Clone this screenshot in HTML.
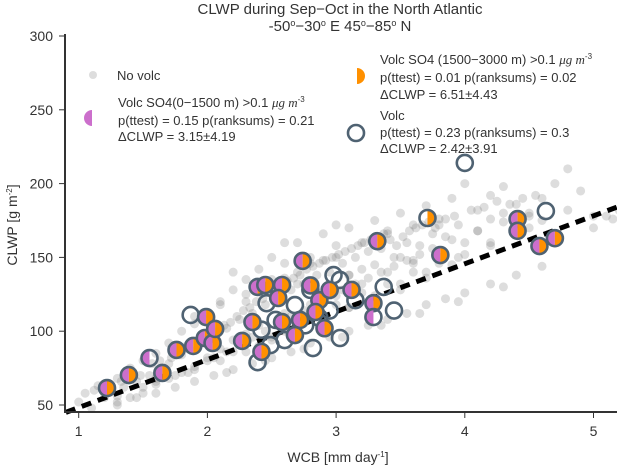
<!DOCTYPE html>
<html><head><meta charset="utf-8"><style>
body{margin:0;background:#fff}
svg text{font-family:"Liberation Sans",sans-serif;fill:#333}
</style></head><body>
<svg id="chart" width="617" height="467" viewBox="0 0 617 467" xmlns="http://www.w3.org/2000/svg">
<text x="340" y="14" font-size="15" text-anchor="middle">CLWP during Sep−Oct in the North Atlantic</text>
<text x="340" y="31" font-size="15" text-anchor="middle">-50<tspan font-size="9" dy="-5">o</tspan><tspan dy="5">−30</tspan><tspan font-size="9" dy="-5">o</tspan><tspan dy="5"> E   45</tspan><tspan font-size="9" dy="-5">o</tspan><tspan dy="5">−85</tspan><tspan font-size="9" dy="-5">o</tspan><tspan dy="5"> N</tspan></text>
<g id="gray"></g>
<line id="fit" stroke="#000" stroke-width="5" stroke-dasharray="10,7"/>
<g id="marks"></g>
<g id="axes"></g>
<text x="338" y="462" font-size="14" text-anchor="middle">WCB [mm day<tspan font-size="8" dy="-5">-1</tspan><tspan dy="5">]</tspan></text>
<text transform="translate(17,225) rotate(-90)" font-size="14" text-anchor="middle">CLWP [g m<tspan font-size="8" dy="-5">-2</tspan><tspan dy="5">]</tspan></text>
<g font-size="13">
 <circle cx="93" cy="75" r="4" fill="#ddd"/>
 <text x="117" y="80" font-size="13">No volc</text>
 <path d="M92,110 A8,8 0 0 0 92,126 Z" fill="#cc6fcc"/>
 <text x="118" y="107" font-size="13">Volc SO4(0−1500 m) &gt;0.1 <tspan font-style="italic" font-family="Liberation Serif">μg  m</tspan><tspan font-size="8" dy="-5">-3</tspan></text>
 <text x="118" y="125" font-size="13">p(ttest) = 0.15 p(ranksums) = 0.21</text>
 <text x="118" y="141" font-size="13">ΔCLWP = 3.15±4.19</text>
 <path d="M357,68 A8,8 0 0 1 357,84 Z" fill="#ff9000"/>
 <text x="380" y="64" font-size="13">Volc SO4 (1500−3000 m) &gt;0.1 <tspan font-style="italic" font-family="Liberation Serif">μg  m</tspan><tspan font-size="8" dy="-5">-3</tspan></text>
 <text x="380" y="82" font-size="13">p(ttest) = 0.01 p(ranksums) = 0.02</text>
 <text x="380" y="99" font-size="13">ΔCLWP = 6.51±4.43</text>
 <circle cx="356" cy="133" r="8" fill="none" stroke="#4f6272" stroke-width="2.6"/>
 <text x="380" y="120" font-size="13">Volc</text>
 <text x="380" y="137" font-size="13">p(ttest) = 0.23 p(ranksums) = 0.3</text>
 <text x="380" y="153" font-size="13">ΔCLWP = 2.42±3.91</text>
</g>
</svg>
<script>
const xTicks=[1,2,3,4,5];
const yTicks=[50,100,150,200,250,300];
const fitLine=[[0.9,45],[5.18,184]];
const grayX=[1.0,1.05,1.1,1.15,1.2,1.25,1.3,1.3,1.35,1.4,1.45,1.5,1.5,1.55,1.6,1.6,1.65,1.7,1.7,1.75,1.8,1.8,1.85,1.9,1.9,1.95,2.0,2.0,2.05,2.1,2.1,2.15,2.2,2.2,2.25,2.3,2.3,2.35,2.4,2.4,2.45,2.5,2.5,2.55,2.6,2.6,2.65,2.7,2.7,2.75,2.8,2.8,2.85,2.9,2.9,2.95,3.0,3.0,3.05,3.1,3.1,3.15,3.2,3.2,3.25,3.3,3.3,3.35,3.4,3.4,3.45,3.5,3.5,3.55,3.6,3.6,3.65,3.7,3.7,3.75,3.8,3.8,3.85,3.9,3.9,3.95,4.0,4.0,4.1,4.1,4.2,4.2,4.3,4.3,4.4,4.5,4.6,4.7,4.8,4.8,5.0,5.1,5.2,1.4,1.6,1.8,2.0,2.2,2.4,2.6,2.8,3.0,3.2,3.4,3.6,3.8,4.0,4.2,4.4,4.6,1.9,2.1,2.3,2.5,2.7,2.9,3.1,3.3,3.5,2.2,2.6,3.0,3.4,3.8,4.6,4.9,
1.12,1.22,1.33,1.42,1.48,1.57,1.63,1.72,1.78,1.84,1.92,1.97,2.03,2.08,2.13,2.18,2.23,2.28,2.33,2.38,2.43,2.48,2.53,2.57,2.62,2.67,2.72,2.77,2.82,2.87,2.92,2.97,3.02,3.07,3.12,3.17,3.22,3.27,3.32,3.37,3.42,3.47,3.52,3.57,3.62,3.67,3.72,3.77,3.85,3.92,4.05,4.15,4.25,4.35,4.45,4.55,
1.3,1.5,1.7,1.9,2.05,2.15,2.25,2.35,2.45,2.55,2.65,2.75,2.85,2.95,3.05,3.15,3.25,3.35,3.45,3.55,3.65,3.75,3.9,4.1,4.3,4.5,
1.6,1.85,2.1,2.3,2.5,2.7,2.9,3.1,3.3,3.5,3.7,3.95,4.2,4.5,2.4,2.6,2.8,3.0,3.2,2.0,2.3,2.7,3.1,3.6,
1.3,1.45,1.6,1.75,1.9,2.05,2.2,2.35,2.5,2.65,2.8,2.95,3.1,3.25,3.4,3.55,3.7,3.85,4.0,4.2,4.4,4.6,2.15,2.45,2.75,3.05,3.35,3.65,3.95,4.3,5.0,5.15];
const grayY=[52,58,48,63,55,60,68,52,62,75,66,58,80,70,85,64,75,78,92,70,84,100,88,76,105,92,82,112,96,88,120,102,94,128,108,98,135,112,104,142,118,96,150,124,112,146,128,106,160,132,118,150,138,110,166,140,124,158,146,116,170,150,132,160,154,120,175,156,140,168,150,128,180,160,148,172,158,136,185,166,150,176,164,145,190,172,160,200,168,182,176,192,180,198,186,178,190,200,210,182,170,178,182,55,68,72,80,86,90,100,108,118,126,132,140,146,152,158,168,175,110,118,125,135,140,148,138,145,150,140,160,172,166,172,160,195,
60,64,66,72,70,78,80,82,84,90,88,94,98,100,104,106,110,114,116,120,122,126,128,130,134,136,138,142,144,146,148,150,152,154,156,158,160,162,164,166,162,158,164,168,170,172,174,170,176,178,182,184,188,186,190,192,
56,62,68,74,82,86,92,96,100,104,110,114,120,124,128,132,136,140,144,148,152,156,162,168,174,180,
66,72,80,86,94,100,108,116,124,132,140,150,160,170,128,136,146,150,142,108,120,132,138,146,
50,55,58,62,66,70,74,78,82,86,92,96,100,104,108,112,118,122,126,132,138,144,72,80,88,96,104,112,120,130,178,176];
const ringX=[1.87,2.46,2.39,2.98,3.03,3.37,3.45,3.03,2.82,2.8,4.0,4.63,2.49,2.6,2.68,2.87,2.95,2.76,3.15,2.53,2.42];
const ringY=[111,119,79,138,134.7,130,114,95.4,88.6,128,214,181.4,90.6,94,117.7,109,114,104,121,107.6,101];
const bothX=[1.22,1.39,1.65,1.76,1.89,1.98,2.04,1.99,2.06,2.27,2.39,2.45,2.58,2.35,2.58,2.42,2.55,2.74,3.32,3.81,3.12,3.29,4.41,4.41,4.58,4.70,2.72,2.8,2.87,2.91,2.95,2.68,2.84];
const bothY=[61.5,70.3,71.7,87.3,90,95.4,92,109.6,101.5,93.4,130,131.3,131.3,106.2,106.2,86,122.5,147.6,161,151.6,128,119,176,168,157.7,163,107.6,131,121,102,128,97.4,113];
const purpleOnlyX=[1.55,3.29];
const purpleOnlyY=[81.8,109.6];
const orangeOnlyX=[3.71];
const orangeOnlyY=[176.7];

const NS='http://www.w3.org/2000/svg';
const L=65,R=617,T=36,B=412;
function sx(v){return 78.7+(v-1)*128.7;}
function sy(v){return 405-(v-50)*1.476;}
function mk(tag,attrs,parent){const e=document.createElementNS(NS,tag);for(const k in attrs)e.setAttribute(k,attrs[k]);parent.appendChild(e);return e;}

const gray=document.getElementById('gray');
grayX.forEach((x,i)=>{
 const c=mk('circle',{cx:sx(x),cy:sy(grayY[i]),r:4.5,fill:'rgba(120,120,120,0.25)'},gray);
 
 
});
const fit=document.getElementById('fit');
fit.setAttribute('x1',sx(fitLine[0][0]));fit.setAttribute('y1',sy(fitLine[0][1]));
fit.setAttribute('x2',sx(fitLine[1][0]));fit.setAttribute('y2',sy(fitLine[1][1]));

const marks=document.getElementById('marks');
const r=8;
function halfL(cx,cy,col){return mk('path',{d:`M${cx},${cy-r} A${r},${r} 0 0 0 ${cx},${cy+r} Z`,fill:col},marks);}
function halfR(cx,cy,col){return mk('path',{d:`M${cx},${cy-r} A${r},${r} 0 0 1 ${cx},${cy+r} Z`,fill:col},marks);}
function ring(cx,cy){return mk('circle',{cx:cx,cy:cy,r:r,fill:'none',stroke:'#4f6272','stroke-width':2.6},marks);}
ringX.forEach((x,i)=>{
 const c=ring(sx(x),sy(ringY[i]));
 
 
});
bothX.forEach((x,i)=>{
 const cx=sx(x),cy=sy(bothY[i]);
 const a=halfL(cx,cy,'#cc6fcc');
 
 
 const b=halfR(cx,cy,'#ff9000');
 
 
 const c=ring(cx,cy);
 
 
});
purpleOnlyX.forEach((x,i)=>{
 const cx=sx(x),cy=sy(purpleOnlyY[i]);
 const a=halfL(cx,cy,'#cc6fcc');
 
 
 const c=ring(cx,cy);
 
 
});
orangeOnlyX.forEach((x,i)=>{
 const cx=sx(x),cy=sy(orangeOnlyY[i]);
 const b=halfR(cx,cy,'#ff9000');
 
 
 const c=ring(cx,cy);
 
 
});

const axes=document.getElementById('axes');
const ya=mk('line',{x1:L,y1:T-2,x2:L,y2:B,stroke:'#333','stroke-width':2},axes);


const xa=mk('line',{x1:L-1,y1:B,x2:R,y2:B,stroke:'#333','stroke-width':2},axes);


xTicks.forEach(t=>{
 const x=sx(t);
 mk('line',{x1:x,y1:B,x2:x,y2:B+6,stroke:'#333','stroke-width':1},axes);
 const tx=mk('text',{x:x,y:B+24,'font-size':14,'text-anchor':'middle'},axes);
 tx.textContent=t;
 
 
});
yTicks.forEach(t=>{
 const y=sy(t);
 mk('line',{x1:L-6,y1:y,x2:L,y2:y,stroke:'#333','stroke-width':1},axes);
 const tx=mk('text',{x:L-12,y:y+5,'font-size':14,'text-anchor':'end'},axes);
 tx.textContent=t;
 
 
});
</script>
</body></html>
